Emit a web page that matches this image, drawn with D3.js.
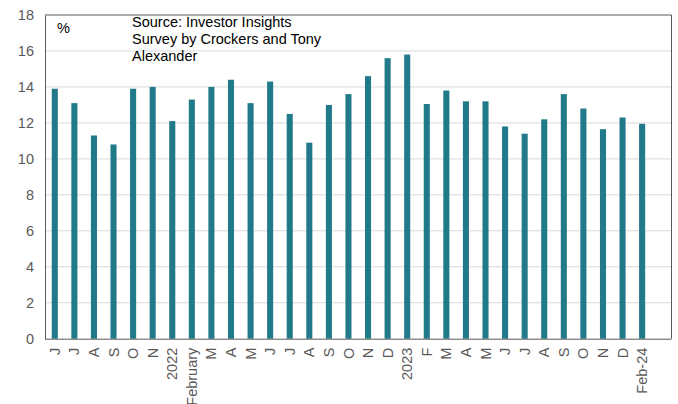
<!DOCTYPE html>
<html><head><meta charset="utf-8">
<script src="https://cdn.jsdelivr.net/npm/d3@7"></script>
<style>html,body{margin:0;padding:0;background:#fff;}svg{display:block;font-family:"Liberation Sans",Arial,sans-serif;}</style>
</head><body><svg id="c" width="678" height="404"></svg>
<script>
const categories = ["J","J","A","S","O","N","2022","February","M","A","M","J","J","A","S","O","N","D","2023","F","M","A","M","J","J","A","S","O","N","D","Feb-24"];
const values = [13.9,13.1,11.3,10.8,13.9,14.0,12.1,13.3,14.0,14.4,13.1,14.3,12.5,10.9,13.0,13.6,14.6,15.6,15.8,13.05,13.8,13.2,13.2,11.8,11.4,12.2,13.6,12.8,11.65,12.3,11.95];
const yTicks = [0,2,4,6,8,10,12,14,16,18];
const notes = ["Source: Investor Insights","Survey by Crockers and Tony","Alexander"];
const unitLabel = "%";

const W = 678, H = 404;
const m = {left:45, top:15, right:6.5, bottom:65.3};
const FS = 14.5;
const svg = d3.select("#c");
const x0 = m.left, x1 = W - m.right, yb = H - m.bottom;
const slot = (x1 - x0) / (categories.length + 1);
const x = d3.scaleBand().domain(categories.map((d,i)=>i)).range([x0, x0 + slot*categories.length]).paddingInner(0.69).paddingOuter(0.345);
const y = d3.scaleLinear().domain([0,18]).range([yb, m.top]);

// gridlines
svg.append("g").selectAll("line").data(yTicks.filter(t=>t>0 && t<18)).join("line")
  .attr("x1", x0).attr("x2", x1).attr("y1", d=>y(d)).attr("y2", d=>y(d))
  .attr("stroke", "#d9d9d9").attr("stroke-width", 1);

// bars
svg.append("g").selectAll("rect").data(values).join("rect")
  .attr("x", (d,i)=>x(i)).attr("width", x.bandwidth())
  .attr("y", d=>y(d)).attr("height", d=>yb - y(d))
  .attr("fill", "#217a8a");

// frame
svg.append("line").attr("x1",x0).attr("x2",x1).attr("y1",m.top).attr("y2",m.top).attr("stroke","#595959");
svg.append("line").attr("x1",x1).attr("x2",x1).attr("y1",m.top).attr("y2",yb).attr("stroke","#595959");

// y axis
const ya = svg.append("g").attr("transform",`translate(${x0},0)`).call(d3.axisLeft(y).tickValues(yTicks).tickSize(0).tickPadding(11));
ya.select(".domain").attr("stroke","#595959");
ya.selectAll("text").attr("font-size",FS).attr("fill","#595959").attr("font-family","Liberation Sans, Arial, sans-serif");

// x axis
const xa = svg.append("g").attr("transform",`translate(0,${yb})`).call(d3.axisBottom(x).tickFormat(i=>categories[i]).tickSize(0));
xa.select(".domain").attr("stroke","#595959").attr("d", `M${x0},0.5H${x1}`);
xa.selectAll("text").attr("font-size",FS).attr("fill","#595959").attr("font-family","Liberation Sans, Arial, sans-serif")
  .attr("transform","rotate(-90)").attr("text-anchor","end").attr("x",-9).attr("y",0).attr("dy","0.35em");

// annotations
svg.append("text").attr("x",57).attr("y",33).attr("font-size",FS).attr("fill","#000").text(unitLabel);
svg.append("g").selectAll("text").data(notes).join("text")
  .attr("x",132).attr("y",(d,i)=>27+i*17).attr("font-size",FS).attr("fill","#000").text(d=>d);
</script></body></html>
